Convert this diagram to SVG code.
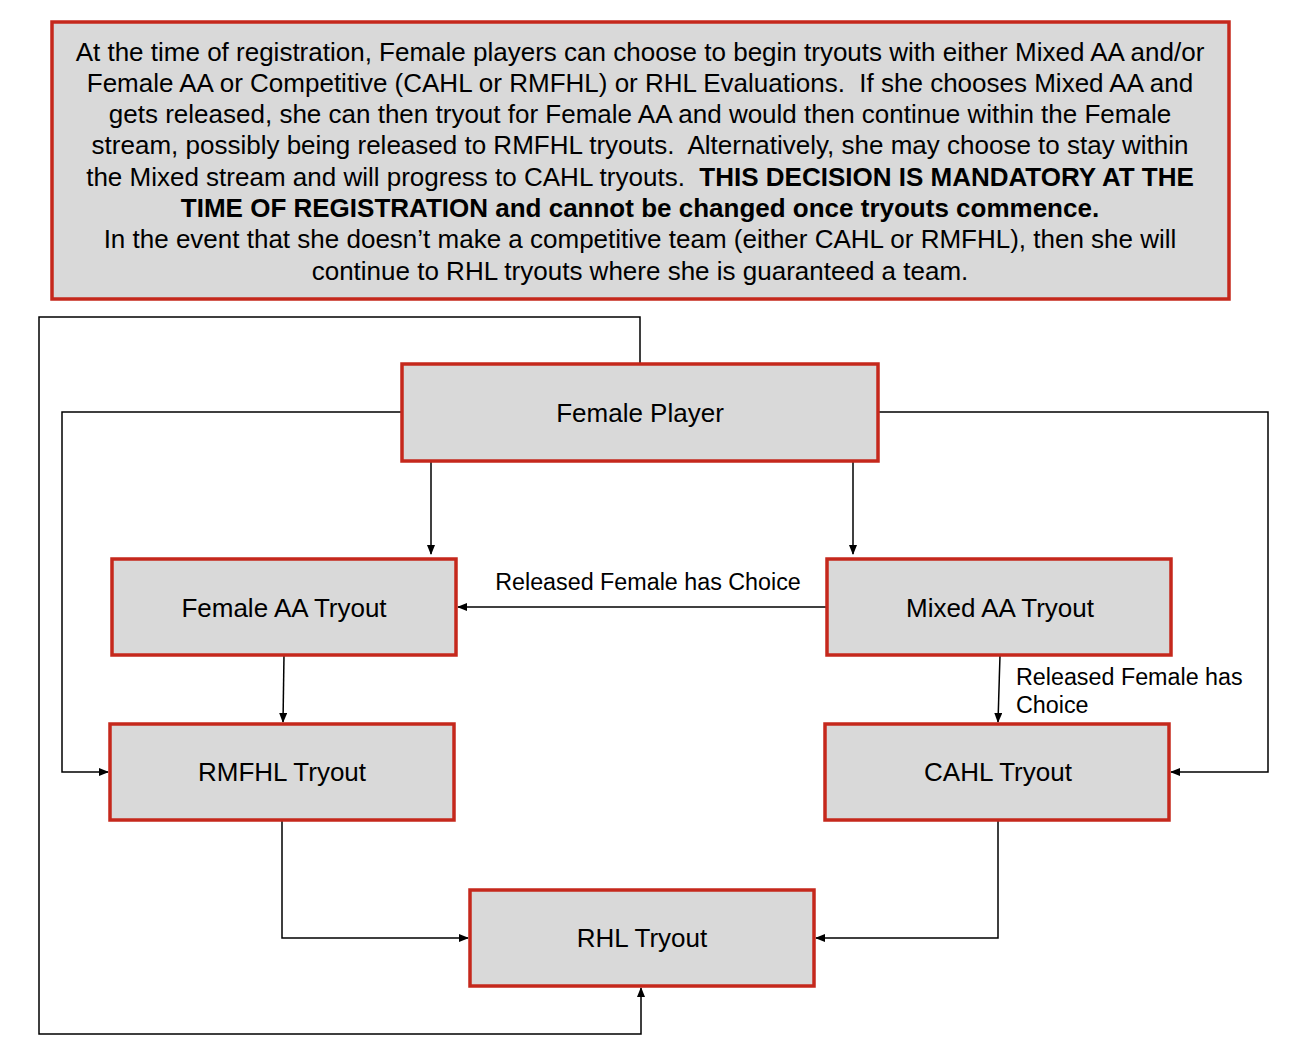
<svg xmlns="http://www.w3.org/2000/svg" width="1304" height="1048" viewBox="0 0 1304 1048">
<style>
.box{fill:#d9d9d9;stroke:#c5281c;stroke-width:3.5}
.t{font-family:"Liberation Sans",Arial,sans-serif;fill:#000;white-space:pre}
.nt{font-size:26px;text-anchor:middle}
.c{fill:none;stroke:#000;stroke-width:1.5}
.lbl{font-size:23.3px}
</style>
<defs>
<marker id="ah" markerWidth="10" markerHeight="8" refX="9" refY="4" orient="auto" markerUnits="userSpaceOnUse">
<path d="M0,0 L10,4 L0,8 Z" fill="#000"/>
</marker>
</defs>
<rect width="1304" height="1048" fill="#fff"/>
<g id="note">
<rect class="box" x="52" y="22" width="1177" height="277" stroke-width="4"/>
<text class="t" font-size="26" text-anchor="middle" xml:space="preserve"><tspan x="640" y="61">At the time of registration, Female players can choose to begin tryouts with either Mixed AA and/or</tspan><tspan x="640" y="92">Female AA or Competitive (CAHL or RMFHL) or RHL Evaluations.  If she chooses Mixed AA and</tspan><tspan x="640" y="123">gets released, she can then tryout for Female AA and would then continue within the Female</tspan><tspan x="640" y="154">stream, possibly being released to RMFHL tryouts.  Alternatively, she may choose to stay within</tspan><tspan x="640" y="186">the Mixed stream and will progress to CAHL tryouts.  <tspan font-weight="bold">THIS DECISION IS MANDATORY AT THE</tspan></tspan><tspan x="640" y="217" font-weight="bold">TIME OF REGISTRATION and cannot be changed once tryouts commence.</tspan><tspan x="640" y="248">In the event that she doesn’t make a competitive team (either CAHL or RMFHL), then she will</tspan><tspan x="640" y="280">continue to RHL tryouts where she is guaranteed a team.</tspan></text>
</g>
<g id="connectors">
<path class="c" d="M640,364 V317 H39 V1034 H641 V988" marker-end="url(#ah)"/>
<path class="c" d="M402,412 H62 V772 H108" marker-end="url(#ah)"/>
<path class="c" d="M878,412 H1268 V772 H1171" marker-end="url(#ah)"/>
<path class="c" d="M431,461 V554" marker-end="url(#ah)"/>
<path class="c" d="M853,461 V554" marker-end="url(#ah)"/>
<path class="c" d="M827,607 H458" marker-end="url(#ah)"/>
<path class="c" d="M284,655 L283,722" marker-end="url(#ah)"/>
<path class="c" d="M1000,655 L998,722" marker-end="url(#ah)"/>
<path class="c" d="M282,820 V938 H468" marker-end="url(#ah)"/>
<path class="c" d="M998,820 V938 H816" marker-end="url(#ah)"/>
<text class="t lbl" x="648" y="590" text-anchor="middle">Released Female has Choice</text>
<text class="t lbl" x="1016" y="685">Released Female has</text>
<text class="t lbl" x="1016" y="713">Choice</text>
</g>
<g id="female-player">
<rect class="box" x="402" y="364" width="476" height="97"/>
<text class="t nt" x="640" y="422">Female Player</text>
</g>
<g id="female-aa">
<rect class="box" x="112" y="559" width="344" height="96"/>
<text class="t nt" x="284" y="617">Female AA Tryout</text>
</g>
<g id="mixed-aa">
<rect class="box" x="827" y="559" width="344" height="96"/>
<text class="t nt" x="1000" y="617">Mixed AA Tryout</text>
</g>
<g id="rmfhl">
<rect class="box" x="110" y="724" width="344" height="96"/>
<text class="t nt" x="282" y="781">RMFHL Tryout</text>
</g>
<g id="cahl">
<rect class="box" x="825" y="724" width="344" height="96"/>
<text class="t nt" x="998" y="781">CAHL Tryout</text>
</g>
<g id="rhl">
<rect class="box" x="470" y="890" width="344" height="96"/>
<text class="t nt" x="642" y="947">RHL Tryout</text>
</g>
</svg>
